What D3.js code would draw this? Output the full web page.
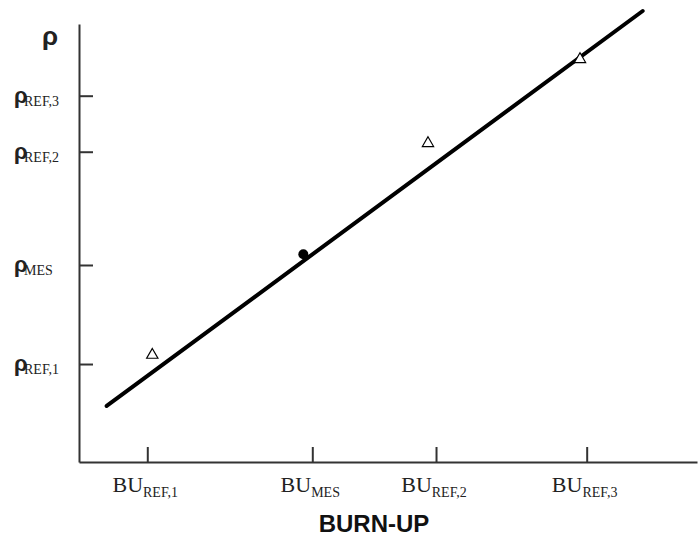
<!DOCTYPE html>
<html>
<head>
<meta charset="utf-8">
<script src="https://cdn.jsdelivr.net/npm/d3@7"></script>
<style>
  body { margin: 0; background: #fff; }
  svg { display: block; }
</style>
</head>
<body>
<div id="chart"></div>
<script>
// Chart size
var width = 699;
var height = 537;

// Tick labels (main part + subscript) and their positions in chart units
var xTickNames = ["BU", "BU", "BU", "BU"];
var xTickSubs = ["REF,1", "MES", "REF,2", "REF,3"];
var xTickValues = [1.105, 3.775, 5.777, 8.215];

var yTickNames = ["ρ", "ρ", "ρ", "ρ"];
var yTickSubs = ["REF,1", "MES", "REF,2", "REF,3"];
var yTickValues = [2.237, 4.498, 7.084, 8.363];

// Fitted line (two end points)
var lineX = [0.448, 9.121];
var lineY = [1.279, 10.297];

// Reference samples (triangles)
var refX = [1.186, 5.647, 8.107];
var refY = [2.443, 7.276, 9.194];

// Measured sample (dot)
var mesX = [3.63];
var mesY = [4.742];

// Axis titles
var xTitle = "BURN-UP";
var yTitle = "ρ";

// Plot edges (named so they don't clash with window.top etc.)
var plotLeft = 79, plotRight = 697, plotTop = 24, plotBottom = 462;
var axisColor = "#333";

var svg = d3.select("#chart")
  .append("svg")
  .attr("width", width)
  .attr("height", height);

var xScale = d3.scaleLinear().domain([0, 10]).range([plotLeft, plotRight]);
var yScale = d3.scaleLinear().domain([0, 10]).range([plotBottom, plotTop]);

// Axes: ticks point inward, labels drawn by hand below
var xAxis = d3.axisBottom(xScale)
  .tickValues(xTickValues)
  .tickSizeInner(-15)
  .tickSizeOuter(0)
  .tickFormat("");
var yAxis = d3.axisLeft(yScale)
  .tickValues(yTickValues)
  .tickSizeInner(-14)
  .tickSizeOuter(0)
  .tickFormat("");

svg.append("g")
  .attr("class", "xAxis")
  .attr("transform", "translate(0," + plotBottom + ")")
  .call(xAxis);
svg.append("g")
  .attr("class", "yAxis")
  .attr("transform", "translate(" + plotLeft + ",0)")
  .call(yAxis);

svg.selectAll(".xAxis path, .yAxis path, .xAxis line, .yAxis line")
  .attr("stroke", axisColor)
  .attr("stroke-width", 2);

// X tick labels: serif "BU" with a smaller subscript
xTickValues.forEach(function(v, i) {
  var t = svg.append("text")
    .attr("x", xScale(v) - 2)
    .attr("y", plotBottom + 30)
    .attr("text-anchor", "middle")
    .attr("font-family", "'Liberation Serif', 'Times New Roman', serif")
    .attr("fill", "#222");
  t.append("tspan").attr("font-size", 22).text(xTickNames[i]);
  t.append("tspan").attr("font-size", 14).attr("dy", 5).text(xTickSubs[i]);
});

// Y tick labels: bold rho, subscript overlapping its tail
yTickValues.forEach(function(v, i) {
  var y = yScale(v);
  svg.append("text")
    .attr("x", 14)
    .attr("y", y + 7)
    .attr("font-family", "'Liberation Sans', Arial, sans-serif")
    .attr("font-weight", "bold")
    .attr("font-size", 22)
    .attr("fill", "#222")
    .text(yTickNames[i]);
  svg.append("text")
    .attr("x", 24)
    .attr("y", y + 10)
    .attr("font-family", "'Liberation Serif', 'Times New Roman', serif")
    .attr("font-size", 14)
    .attr("fill", "#222")
    .text(yTickSubs[i]);
});

// Axis titles
svg.append("text")
  .attr("x", 42)
  .attr("y", 45)
  .attr("font-family", "'Liberation Sans', Arial, sans-serif")
  .attr("font-weight", "bold")
  .attr("font-size", 26)
  .attr("fill", "#222")
  .text(yTitle);

svg.append("text")
  .attr("x", 374)
  .attr("y", 532)
  .attr("text-anchor", "middle")
  .attr("font-family", "'Liberation Sans', Arial, sans-serif")
  .attr("font-weight", "bold")
  .attr("font-size", 24)
  .attr("fill", "#111")
  .text(xTitle);

// Fitted line
var lineData = lineX.map(function(x, i) { return [x, lineY[i]]; });
svg.append("path")
  .datum(lineData)
  .attr("d", d3.line()
    .x(function(d) { return xScale(d[0]); })
    .y(function(d) { return yScale(d[1]); }))
  .attr("fill", "none")
  .attr("stroke", "#000")
  .attr("stroke-width", 4)
  .attr("stroke-linecap", "round");

// Reference triangles
var tri = d3.symbol().type(d3.symbolTriangle).size(55);
svg.selectAll(".ref")
  .data(refX.map(function(x, i) { return [x, refY[i]]; }))
  .enter()
  .append("path")
  .attr("class", "ref")
  .attr("d", tri)
  .attr("transform", function(d) {
    return "translate(" + xScale(d[0]) + "," + yScale(d[1]) + ")";
  })
  .attr("fill", "#fff")
  .attr("stroke", "#000")
  .attr("stroke-width", 1.2);

// Measured dot
svg.selectAll(".mes")
  .data(mesX.map(function(x, i) { return [x, mesY[i]]; }))
  .enter()
  .append("circle")
  .attr("class", "mes")
  .attr("cx", function(d) { return xScale(d[0]); })
  .attr("cy", function(d) { return yScale(d[1]); })
  .attr("r", 5)
  .attr("fill", "#000");
</script>
</body>
</html>
